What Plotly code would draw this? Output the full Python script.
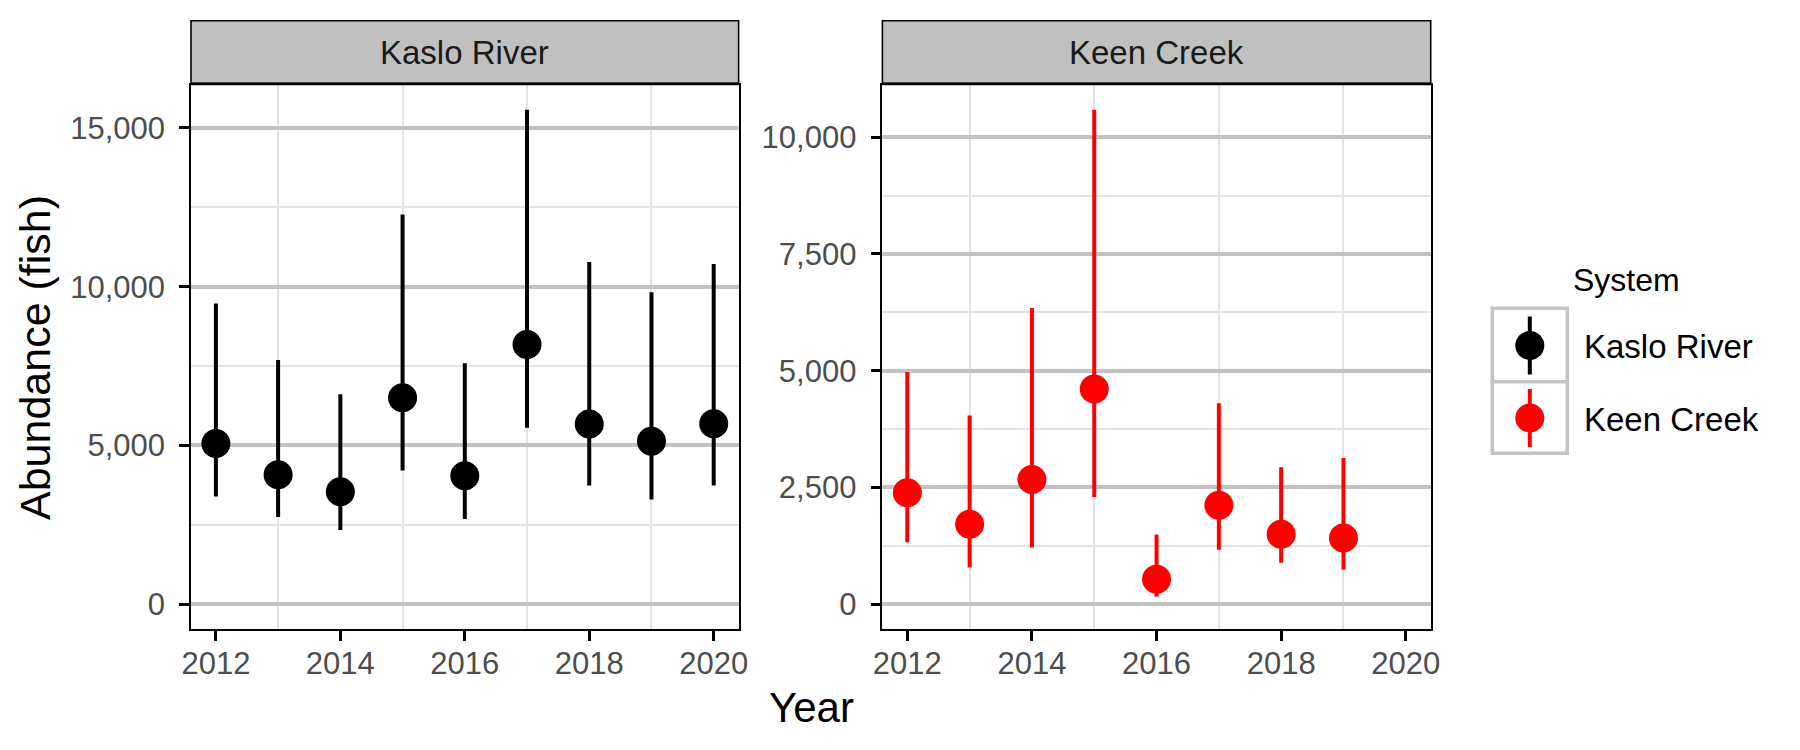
import plotly.graph_objects as go

# ---------------- data ----------------
systems = ["Kaslo River", "Keen Creek"]
colors = ["#000000", "#FF0000"]

kaslo_years = [2012, 2013, 2014, 2015, 2016, 2017, 2018, 2019, 2020]
kaslo_est = [5060, 4075, 3540, 6500, 4050, 8180, 5675, 5130, 5680]
kaslo_lo = [3395, 2750, 2340, 4210, 2685, 5560, 3740, 3300, 3740]
kaslo_hi = [9470, 7690, 6615, 12270, 7585, 15570, 10775, 9820, 10710]

keen_years = [2012, 2013, 2014, 2015, 2016, 2017, 2018, 2019]
keen_est = [2387, 1712, 2671, 4610, 533, 2117, 1499, 1421]
keen_lo = [1328, 789, 1215, 2295, 163, 1165, 888, 746]
keen_hi = [4973, 4043, 6344, 10586, 1492, 4305, 2934, 3133]

x_ticks = [2012, 2014, 2016, 2018, 2020]
x_minor = [2013, 2015, 2017, 2019]
kaslo_yticks = [0, 5000, 10000, 15000]
kaslo_yminor = [2500, 7500, 12500]
keen_yticks = [0, 2500, 5000, 7500, 10000]
keen_yminor = [1250, 3750, 6250, 8750]

W, H = 1800, 750
FONT = "Liberation Sans, Arial, sans-serif"

def px_x(p):
    return p / W

def px_y(p):
    return (H - p) / H

fig = go.Figure()

panels = [
    (kaslo_years, kaslo_est, kaslo_lo, kaslo_hi, "x", "y"),
    (keen_years, keen_est, keen_lo, keen_hi, "x2", "y2"),
]
for i, (yrs, est, lo, hi, xa, ya) in enumerate(panels):
    fig.add_trace(go.Scatter(
        x=yrs, y=est, mode="markers", name=systems[i],
        xaxis=xa, yaxis=ya, showlegend=False,
        marker=dict(size=29, color=colors[i], line=dict(width=0)),
        error_y=dict(type="data", symmetric=False,
                     array=[h - e for h, e in zip(hi, est)],
                     arrayminus=[e - l for e, l in zip(est, lo)],
                     width=0, thickness=4, color=colors[i]),
    ))

# panel geometry (pixels)
panel_x = [(191.0, 738.6), (882.4, 1430.7)]
panel_top, panel_bot = 85.0, 629.0
strip_top, strip_bot = 20.7, 83.3

common_x = dict(
    range=[2011.6, 2020.4], tickmode="array", tickvals=x_ticks, showgrid=False, zeroline=False,
    ticks="outside", ticklen=10, tickwidth=3, tickcolor="#000000",
    showline=True, mirror=True, linecolor="#000000", linewidth=1.6,
    tickfont=dict(family=FONT, size=31, color="#4D4D4D"),
    minor=dict(tickmode="array", tickvals=x_minor, showgrid=True,
               gridcolor="#E3E3E3", gridwidth=2, ticks=""),
    ticklabelstandoff=-4, automargin=False,
)

def y_axis(ticks, minor_ticks, maxv):
    rng = [0 - 0.05 * maxv, maxv * 1.05]
    return dict(
        range=rng, tickmode="array", tickvals=ticks, tickformat=",d", zeroline=False,
        showgrid=True, gridcolor="#C2C2C2", gridwidth=3.8,
        ticks="outside", ticklen=10, tickwidth=3, tickcolor="#000000",
        showline=True, mirror=True, linecolor="#000000", linewidth=1.6,
        tickfont=dict(family=FONT, size=31, color="#4D4D4D"),
        minor=dict(tickmode="array", tickvals=minor_ticks, showgrid=True,
                   gridcolor="#E3E3E3", gridwidth=2, ticks=""),
        ticklabelstandoff=8, automargin=False,
    )

y_dom = [px_y(panel_bot), px_y(panel_top)]

fig.update_layout(
    width=W, height=H,
    margin=dict(l=0, r=0, t=0, b=0, autoexpand=False),
    paper_bgcolor="#FFFFFF", plot_bgcolor="#FFFFFF",
    font=dict(family=FONT, color="#000000"),
    showlegend=False,
    xaxis=dict(domain=[px_x(panel_x[0][0]), px_x(panel_x[0][1])], anchor="y", **common_x),
    xaxis2=dict(domain=[px_x(panel_x[1][0]), px_x(panel_x[1][1])], anchor="y2", **common_x),
    yaxis=dict(domain=y_dom, anchor="x", **y_axis(kaslo_yticks, kaslo_yminor, max(kaslo_hi))),
    yaxis2=dict(domain=y_dom, anchor="x2", **y_axis(keen_yticks, keen_yminor, max(keen_hi))),
)

shapes = []
annotations = []
# strips
for i, (x0, x1) in enumerate(panel_x):
    shapes.append(dict(type="rect", xref="paper", yref="paper",
                       x0=px_x(x0), x1=px_x(x1), y0=px_y(strip_bot), y1=px_y(strip_top),
                       fillcolor="#C0C0C0", line=dict(color="#000000", width=1.6), layer="above"))
    shapes.append(dict(type="line", xref="paper", yref="paper",
                       x0=px_x(x0), x1=px_x(x1), y0=px_y(strip_bot + 0.8), y1=px_y(strip_bot + 0.8),
                       line=dict(color="#000000", width=2.5), layer="above"))
    annotations.append(dict(text=systems[i], xref="paper", yref="paper",
                            x=px_x((x0 + x1) / 2), y=px_y((strip_top + strip_bot) / 2),
                            showarrow=False, xanchor="center", yanchor="middle",
                            font=dict(family=FONT, size=33, color="#1A1A1A")))

# axis titles
annotations.append(dict(text="Year", xref="paper", yref="paper",
                        x=px_x(811), y=px_y(707), showarrow=False,
                        xanchor="center", yanchor="middle",
                        font=dict(family=FONT, size=42, color="#000000")))
annotations.append(dict(text="Abundance (fish)", xref="paper", yref="paper",
                        x=px_x(35), y=px_y(358), showarrow=False, textangle=-90,
                        xanchor="center", yanchor="middle",
                        font=dict(family=FONT, size=43, color="#000000")))

# legend (drawn manually to match ggplot key style)
leg_x0, leg_x1 = 1492.3, 1567.3
key_rows = [(308.3, 381.7), (381.7, 453.3)]
annotations.append(dict(text="System", xref="paper", yref="paper",
                        x=px_x(1571), y=px_y(280), showarrow=False,
                        xanchor="left", yanchor="middle",
                        font=dict(family=FONT, size=32, color="#000000")))
for i, (t, b) in enumerate(key_rows):
    shapes.append(dict(type="rect", xref="paper", yref="paper",
                       x0=px_x(leg_x0), x1=px_x(leg_x1), y0=px_y(b), y1=px_y(t),
                       fillcolor="#FFFFFF", line=dict(color="#C4C4C4", width=3.5)))
    cx = (leg_x0 + leg_x1) / 2
    cy = (t + b) / 2 + 0.5
    shapes.append(dict(type="line", xref="paper", yref="paper",
                       x0=px_x(cx), x1=px_x(cx), y0=px_y(cy + 29), y1=px_y(cy - 29),
                       line=dict(color=colors[i], width=4)))
    shapes.append(dict(type="circle", xref="paper", yref="paper",
                       x0=px_x(cx - 14.5), x1=px_x(cx + 14.5),
                       y0=px_y(cy + 14.5), y1=px_y(cy - 14.5),
                       fillcolor=colors[i], line=dict(width=0)))
    annotations.append(dict(text=systems[i], xref="paper", yref="paper",
                            x=px_x(1582), y=px_y(cy + 1), showarrow=False,
                            xanchor="left", yanchor="middle",
                            font=dict(family=FONT, size=33, color="#000000")))

fig.update_layout(shapes=shapes, annotations=annotations)
fig.write_html("out.html")
